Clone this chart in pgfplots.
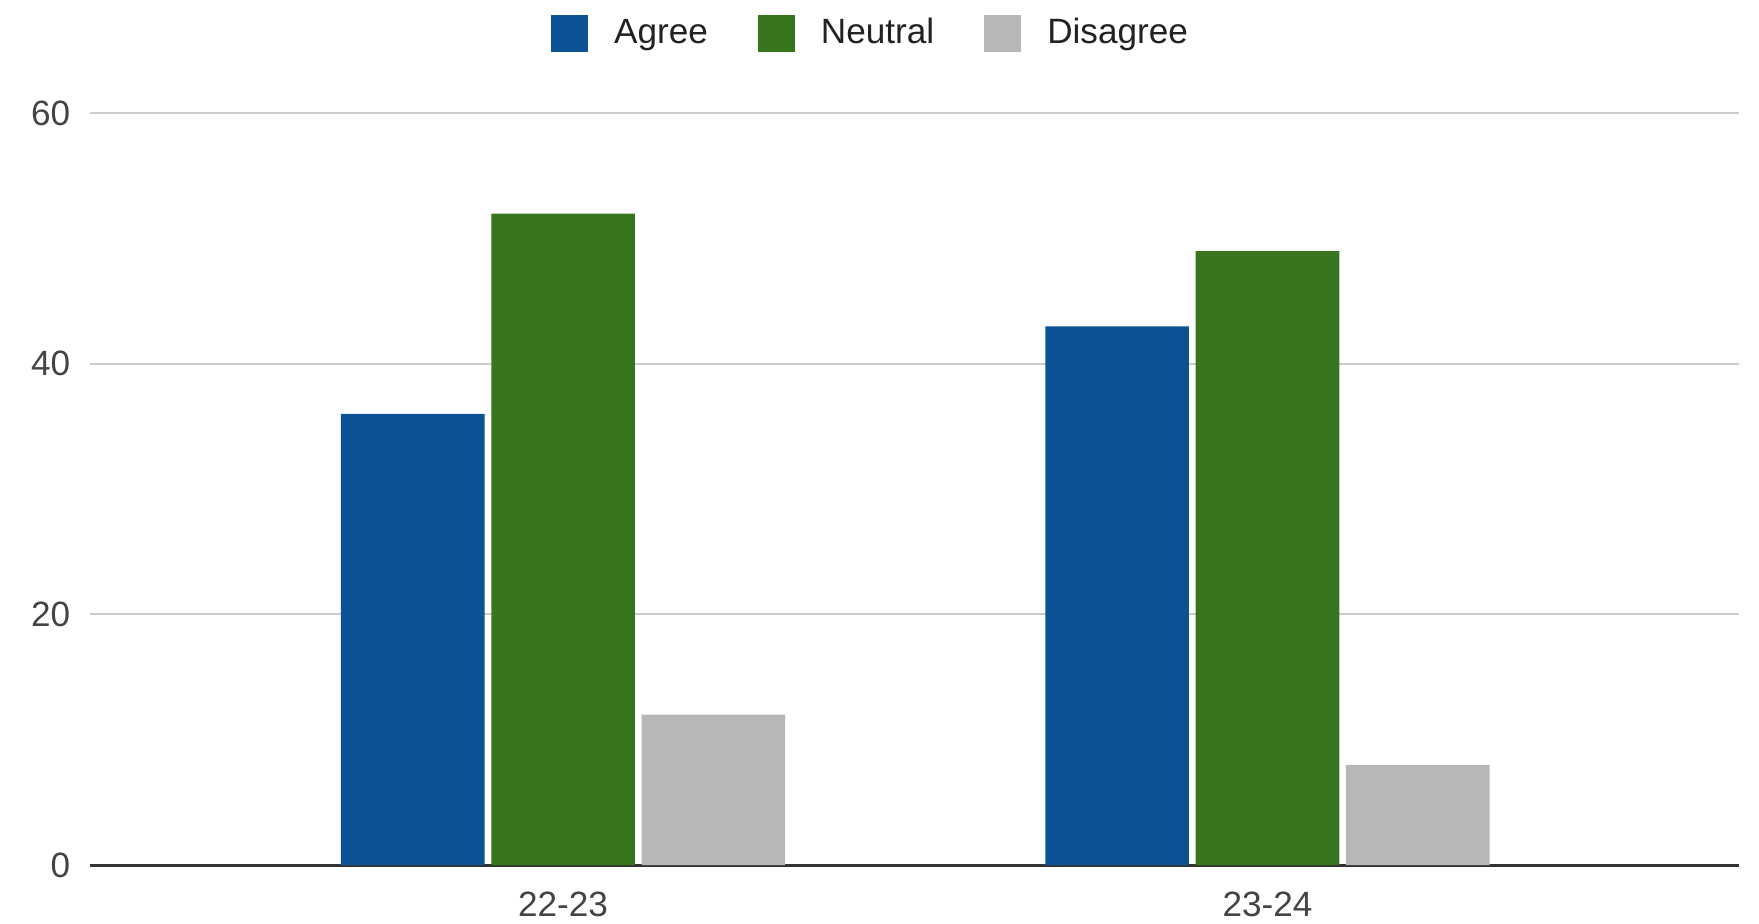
\documentclass[border=0pt]{standalone}
\usepackage{fontspec}
\setmainfont{Liberation Sans}
\usepackage{pgfplots}
\pgfplotsset{compat=1.18}
\definecolor{agree}{HTML}{0B5394}
\definecolor{neutral}{HTML}{38761D}
\definecolor{disagree}{HTML}{B7B7B7}
\definecolor{gridgray}{HTML}{CCCCCC}
\definecolor{basegray}{HTML}{333333}
\definecolor{labelgray}{HTML}{444444}
\definecolor{textdark}{HTML}{222222}
\pgfplotsset{sqlegend/.style={legend image code/.code={\fill[##1,draw=none] (0mm,-1.85mm) rectangle (3.7mm,1.85mm);}}}
\begin{document}
\begin{tikzpicture}
\useasboundingbox (0,0) rectangle (175.9mm,92.3mm);
\begin{axis}[
  at={(8.97mm,5.8mm)}, anchor=south west,
  scale only axis, width=164.9mm, height=75.17mm,
  ybar=0.67mm, bar width=14.36mm,
  xmin=-0.672, xmax=1.669, ymin=0, ymax=60,
  xtick={0,1}, xticklabels={22-23,23-24},
  ytick={0,20,40,60},
  ymajorgrids, grid style={gridgray, line width=0.2mm},
  axis x line*=bottom, axis y line*=left,
  x axis line style={basegray, line width=0.3mm},
  y axis line style={draw=none},
  major tick length=0pt,
  tick label style={font=\fontsize{10}{12}\selectfont, text=labelgray},
  xticklabel style={yshift=-1.45mm},
  yticklabel style={xshift=-0.7mm},
  /pgf/number format/assume math mode=true,
  legend columns=3,
  legend style={draw=none, fill=none, at={(0.475,1.106)}, anchor=center,
    font=\fontsize{10}{12}\selectfont, text=textdark,
    /tikz/every odd column/.append style={column sep=1.9mm},
    /tikz/every even column/.append style={column sep=4.3mm}},
]
\addplot[fill=agree, draw=none, sqlegend] coordinates {(0,36) (1,43)};
\addlegendentry{Agree}
\addplot[fill=neutral, draw=none, sqlegend] coordinates {(0,52) (1,49)};
\addlegendentry{Neutral}
\addplot[fill=disagree, draw=none, sqlegend] coordinates {(0,12) (1,8)};
\addlegendentry{Disagree}
\end{axis}
\end{tikzpicture}
\end{document}
